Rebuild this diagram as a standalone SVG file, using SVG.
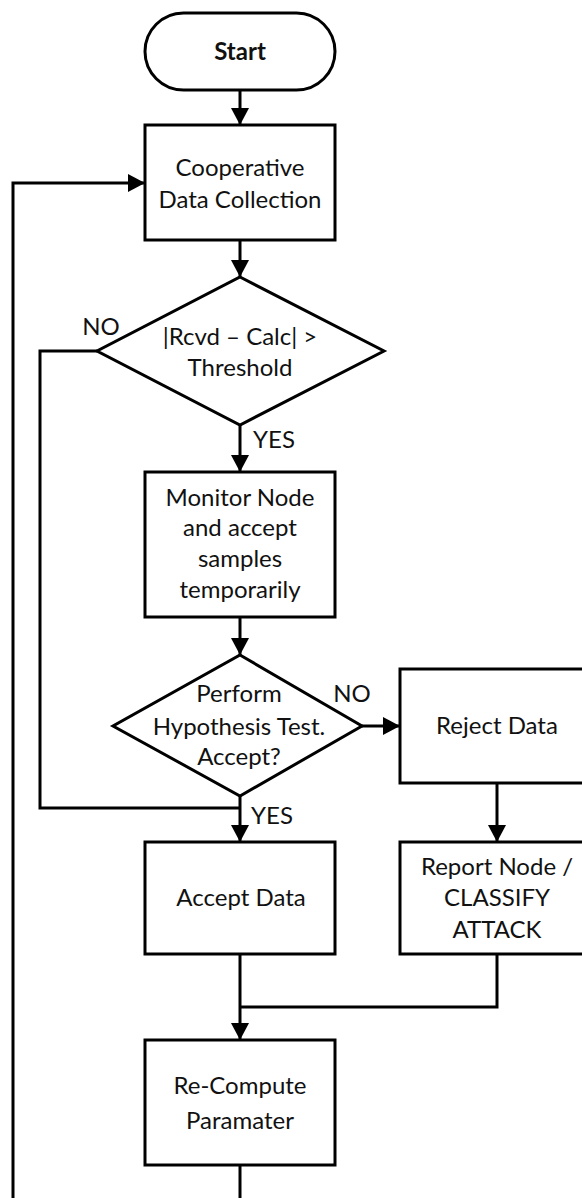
<svg xmlns="http://www.w3.org/2000/svg" width="582" height="1198" viewBox="0 0 582 1198">
<defs>
<marker id="arr" markerUnits="userSpaceOnUse" markerWidth="18" markerHeight="18" refX="17" refY="9" orient="auto">
<path d="M0,0 L17,9 L0,18 z" fill="#000"/>
</marker>
<style>
.shape{fill:#fff;stroke:#000;stroke-width:3}
.conn{fill:none;stroke:#000;stroke-width:3}
.t{font-family:Lato,"Liberation Sans",sans-serif;font-size:24px;fill:#111;text-anchor:middle}
.b{font-weight:bold}
</style>
</defs>
<rect width="582" height="1198" fill="#fff"/>
<g id="connectors">
<path class="conn" d="M240,90 V125" marker-end="url(#arr)"/>
<path class="conn" d="M13,1198 V183 H145" marker-end="url(#arr)"/>
<path class="conn" d="M240,240 V277" marker-end="url(#arr)"/>
<path class="conn" d="M97,351 H40 V808 H240"/>
<path class="conn" d="M240,425 V472" marker-end="url(#arr)"/>
<path class="conn" d="M240,617 V655" marker-end="url(#arr)"/>
<path class="conn" d="M362,726 H400" marker-end="url(#arr)"/>
<path class="conn" d="M240,796 V842" marker-end="url(#arr)"/>
<path class="conn" d="M497,783 V842" marker-end="url(#arr)"/>
<path class="conn" d="M240,954 V1040" marker-end="url(#arr)"/>
<path class="conn" d="M497,954 V1007 H240"/>
<path class="conn" d="M240,1165 V1198"/>
<text class="t" x="101" y="335">NO</text>
<text class="t" x="274" y="448">YES</text>
<text class="t" x="352" y="702">NO</text>
<text class="t" x="272" y="824">YES</text>
</g>
<g id="start">
<rect class="shape" x="145" y="13" width="190" height="77" rx="38.5"/>
<text class="t b" x="240" y="60">Start</text>
</g>
<g id="collect">
<rect class="shape" x="145" y="125" width="190" height="115"/>
<text class="t" x="240" y="176">Cooperative</text>
<text class="t" x="240" y="208">Data Collection</text>
</g>
<g id="threshold">
<polygon class="shape" points="240,277 384,351 240,425 97,351"/>
<text class="t" x="240" y="345">|Rcvd – Calc| &gt;</text>
<text class="t" x="240" y="376">Threshold</text>
</g>
<g id="monitor">
<rect class="shape" x="145" y="472" width="190" height="145"/>
<text class="t" x="240" y="506">Monitor Node</text>
<text class="t" x="240" y="536">and accept</text>
<text class="t" x="240" y="567">samples</text>
<text class="t" x="240" y="598">temporarily</text>
</g>
<g id="hypothesis">
<polygon class="shape" points="240,655 362,726 240,796 113,726"/>
<text class="t" x="239" y="702">Perform</text>
<text class="t" x="239" y="735">Hypothesis Test.</text>
<text class="t" x="239" y="765">Accept?</text>
</g>
<g id="reject">
<rect class="shape" x="400" y="669" width="195" height="114"/>
<text class="t" x="497" y="734">Reject Data</text>
</g>
<g id="accept">
<rect class="shape" x="145" y="842" width="190" height="112"/>
<text class="t" x="241" y="906">Accept Data</text>
</g>
<g id="report">
<rect class="shape" x="400" y="842" width="195" height="112"/>
<text class="t" x="497" y="875">Report Node /</text>
<text class="t" x="497" y="906">CLASSIFY</text>
<text class="t" x="497" y="938">ATTACK</text>
</g>
<g id="recompute">
<rect class="shape" x="145" y="1040" width="190" height="125"/>
<text class="t" x="240" y="1094">Re-Compute</text>
<text class="t" x="240" y="1129">Paramater</text>
</g>
</svg>
